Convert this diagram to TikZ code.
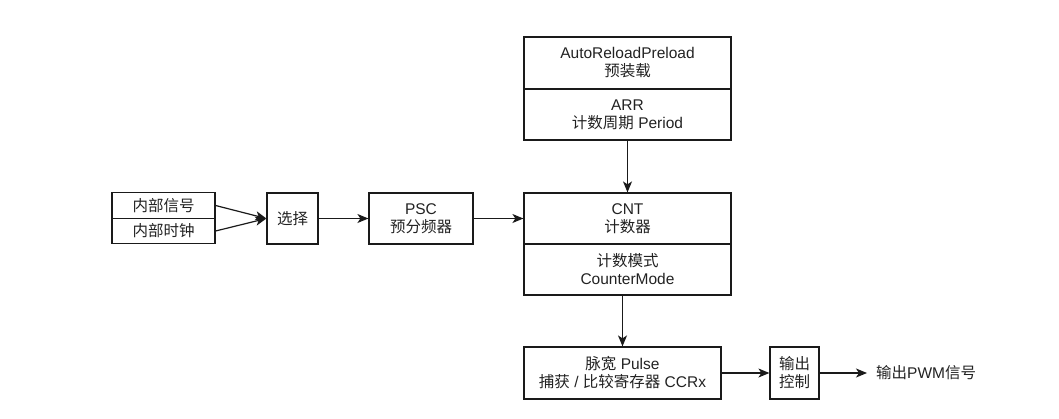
\documentclass[tikz,border=0pt]{standalone}
\usepackage{fontspec}
\setmainfont{Liberation Sans}
\newfontfamily\cjk{Noto Sans CJK SC}
\usepackage{xcolor}
\definecolor{timerLine}{HTML}{1A1A1A}
\definecolor{timerText}{HTML}{222222}
\usetikzlibrary{arrows.meta}

\begin{document}
\begin{tikzpicture}[x=1pt, y=-1pt,
  every node/.style={font=\fontsize{15.5}{18}\selectfont, align=center, text=timerText},
  blk/.style={draw=timerLine, line width=1.2pt, inner sep=0pt},
  flow/.style={line width=1.2pt, draw=timerLine, -{Stealth[length=11pt, width=9pt, inset=3pt]}}]
  \useasboundingbox (0,0) rectangle (1059,418);
  % Input and prescaler
  \node[blk, minimum width=103pt, minimum height=25.5pt] (sig) at (163.5,205.5) {\cjk 内部信号};
  \node[blk, minimum width=103pt, minimum height=25.5pt] (clk) at (163.5,231) {\cjk 内部时钟};
  \node[blk, minimum width=51pt, minimum height=51pt] (sel) at (292.5,218.5) {\cjk 选择};
  \node[blk, minimum width=104pt, minimum height=51pt] (psc) at (421,218.5) {PSC\\{\cjk 预分频器}};
  % Counter stack
  \node[blk, minimum width=207pt, minimum height=52pt] (arp) at (627.5,63) {AutoReloadPreload\\{\cjk 预装载}};
  \node[blk, minimum width=207pt, minimum height=51pt] (arr) at (627.5,114.5) {ARR\\{\cjk 计数周期} Period};
  \node[blk, minimum width=207pt, minimum height=51pt] (cnt) at (627.5,218.5) {CNT\\{\cjk 计数器}};
  \node[blk, minimum width=207pt, minimum height=51pt] (mode) at (627.5,269.5) {{\cjk 计数模式}\\CounterMode};
  % Output stage
  \node[blk, minimum width=197pt, minimum height=52pt] (ccr) at (622.5,373) {{\cjk 脉宽} Pulse\\{\cjk 捕获} / {\cjk 比较寄存器} CCRx};
  \node[blk, minimum width=49pt, minimum height=52pt] (outc) at (794.5,373) {\cjk 输出\\\cjk 控制};
  \node[anchor=west, inner xsep=9pt] (pwm) at (867,373) {{\cjk 输出}PWM{\cjk 信号}};
  % Connectors
  \draw[flow] (sig.east) -- (sel.west);
  \draw[flow] (clk.east) -- (sel.west);
  \draw[flow] (sel) -- (psc);
  \draw[flow] (psc) -- (cnt);
  \draw[flow] (arr) -- (cnt);
  \draw[flow] (ccr.north |- mode.south) -- (ccr.north);
  \draw[flow] (ccr) -- (outc);
  \draw[flow] (outc) -- (pwm);
\end{tikzpicture}
\end{document}
